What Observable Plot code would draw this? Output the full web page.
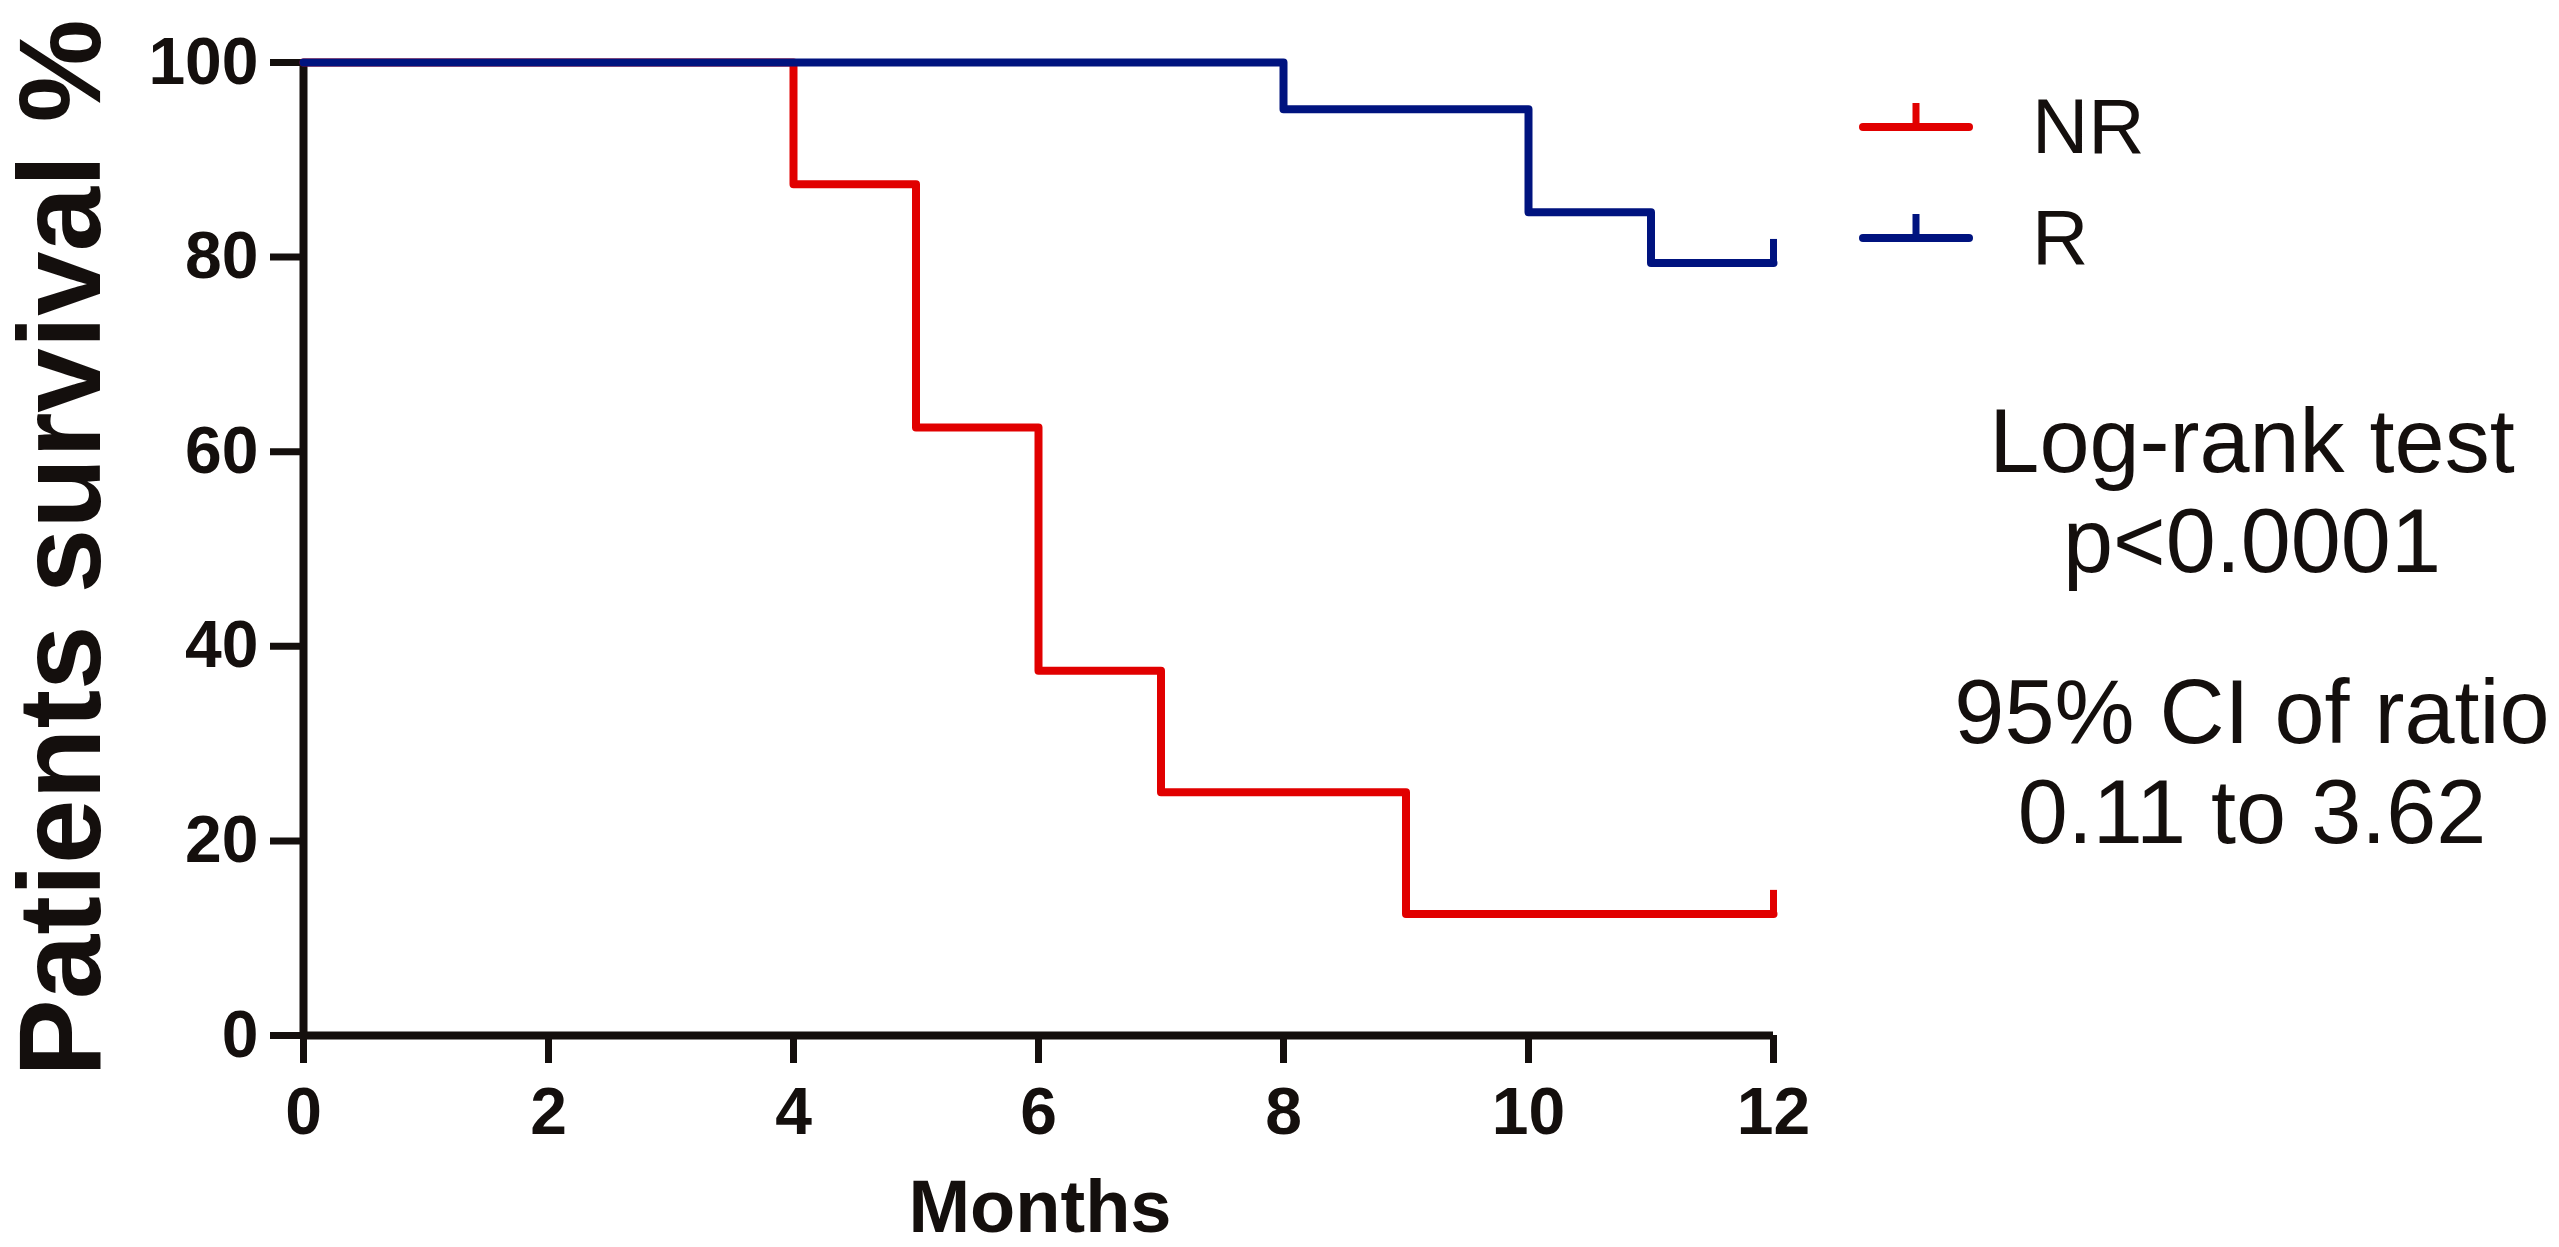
<!DOCTYPE html>
<html>
<head>
<meta charset="utf-8">
<script src="https://cdn.jsdelivr.net/npm/d3@7"></script>
<script src="https://cdn.jsdelivr.net/npm/@observablehq/plot@0.6"></script>
<style>
  html, body { margin: 0; padding: 0; background: #ffffff; }
  #chart svg { display: block; }
  #chart g[aria-label$="tick label"] text { font-weight: bold; }
</style>
</head>
<body>
<div id="chart"></div>
<script>
// ---- data ----
const groups = ["NR", "R"];
const groupColors = ["#e10000", "#00137f"];
const nrMonths   = [0, 4, 5, 6, 7, 9, 12];
const nrSurvival = [100, 87.5, 62.5, 37.5, 25, 12.5, 12.5];
const rMonths    = [0, 8, 10, 11, 12];
const rSurvival  = [100, 95.2, 84.6, 79.4, 79.4];
const censorMonths   = [12, 12];
const censorSurvival = [12.5, 79.4];
const censorGroups   = ["NR", "R"];
const xTicks = [0, 2, 4, 6, 8, 10, 12];
const yTicks = [0, 20, 40, 60, 80, 100];
const xTitle = "Months";
const yTitle = "Patients survival %";
const statLines = ["Log-rank test", "p<0.0001", "95% CI of ratio", "0.11 to 3.62"];

const ink = "#140f0d";
const font = "'Liberation Sans', Arial, Helvetica, sans-serif";

const nrData = nrMonths.map((m, i) => ({month: m, surv: nrSurvival[i], group: "NR"}));
const rData  = rMonths.map((m, i) => ({month: m, surv: rSurvival[i], group: "R"}));
const censorData = censorMonths.map((m, i) => ({month: m, surv: censorSurvival[i], group: censorGroups[i]}));

const censorSymbol = {
  draw(context, size) {
    const r = Math.sqrt(size / Math.PI);
    context.moveTo(0, 0);
    context.lineTo(0, -r);
  }
};

const W = 2559, H = 1247;
const chart = Plot.plot({
  width: W, height: H,
  marginLeft: 303, marginRight: 786, marginTop: 62, marginBottom: 212,
  style: {fontFamily: font, background: "#ffffff", color: ink, overflow: "visible"},
  x: {domain: [0, 12]},
  y: {domain: [0, 100]},
  color: {domain: groups, range: groupColors},
  marks: [
    Plot.axisX({ticks: xTicks, tickSize: 28, tickPadding: 24, fontSize: 66, fontWeight: "bold",
                strokeWidth: 7, tickFormat: d => String(d), label: null}),
    Plot.axisY({ticks: yTicks, tickSize: 33, tickPadding: 12, fontSize: 66, fontWeight: "bold",
                strokeWidth: 7, tickFormat: d => String(d), label: null}),
    Plot.ruleX([0], {stroke: ink, strokeWidth: 8}),
    Plot.ruleY([0], {stroke: ink, strokeWidth: 8}),
    Plot.line(nrData, {x: "month", y: "surv", stroke: "group", curve: "step-after", strokeWidth: 8}),
    Plot.line(rData,  {x: "month", y: "surv", stroke: "group", curve: "step-after", strokeWidth: 8}),
    Plot.dot(censorData, {x: "month", y: "surv", stroke: "group", symbol: censorSymbol, r: 24,
                          strokeWidth: 7, fill: "none"})
  ]
});
document.getElementById("chart").appendChild(chart);

// ---- titles, legend and annotation (layout) ----
const svg = d3.select(chart);
svg.append("text")
  .attr("transform", "translate(100,548) rotate(-90)")
  .attr("text-anchor", "middle")
  .attr("font-family", font).attr("font-weight", "bold").attr("font-size", 116)
  .attr("fill", ink).text(yTitle);
svg.append("text")
  .attr("x", 1040).attr("y", 1232)
  .attr("text-anchor", "middle")
  .attr("font-family", font).attr("font-weight", "bold").attr("font-size", 74)
  .attr("fill", ink).text(xTitle);

const legend = svg.append("g");
groups.forEach((g, i) => {
  const y = 127 + i * 111;
  legend.append("line").attr("x1", 1863).attr("x2", 1969).attr("y1", y).attr("y2", y)
    .attr("stroke", groupColors[i]).attr("stroke-width", 8).attr("stroke-linecap", "round");
  legend.append("line").attr("x1", 1916).attr("x2", 1916).attr("y1", y).attr("y2", y - 24)
    .attr("stroke", groupColors[i]).attr("stroke-width", 7);
  legend.append("text").attr("x", 2032).attr("y", y + 26)
    .attr("text-anchor", "start")
    .attr("font-family", font).attr("font-size", 78).attr("fill", ink).text(g);
});

const statY = [472, 572, 743, 843];
statLines.forEach((t, i) => {
  svg.append("text").attr("x", 2252).attr("y", statY[i])
    .attr("text-anchor", "middle")
    .attr("font-family", font).attr("font-size", 90).attr("fill", ink).text(t);
});
</script>
</body>
</html>
